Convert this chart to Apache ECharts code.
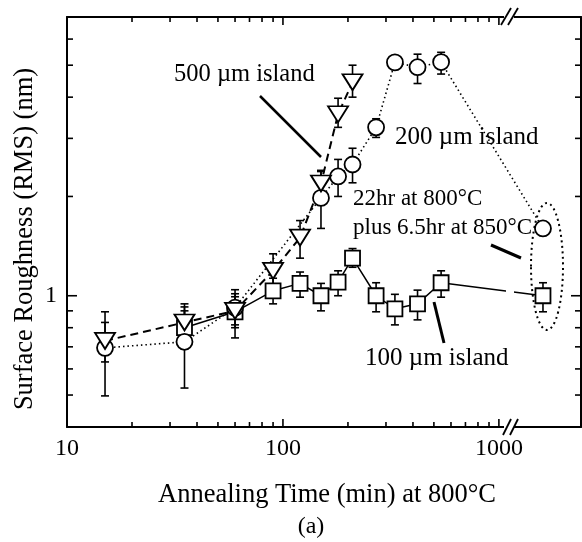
<!DOCTYPE html>
<html><head><meta charset="utf-8">
<script src="https://cdn.jsdelivr.net/npm/echarts@6/dist/echarts.min.js"></script>
<style>html,body{margin:0;padding:0;background:#fff}#c{width:582px;height:542px}</style>
</head><body><div id="c"></div>
<script>
// ---- axis ticks / labels ----
const xMajorTicks = [100, 1000];
const xMinorTicks = [20, 30, 40, 50, 60, 70, 80, 90, 200, 300, 400, 500, 600, 700, 800, 900];
const xTickLabels = [10, 100, 1000];
const yMajorTicks = [1];
const yMinorTicks = [0.5, 0.6, 0.7, 0.8, 0.9, 2, 3, 4, 5, 6];
const yTickLabels = [1];

// ---- 500 um island (triangles, dashed) ----
const tri500X  = [15, 35, 60, 90, 120, 150, 180, 210];
const tri500Y  = [0.73, 0.83, 0.90, 1.19, 1.50, 2.19, 3.55, 4.44];
const tri500Lo = [0.63, 0.72, 0.80, 1.06, 1.30, 2.00, 3.24, 4.00];
const tri500Hi = [0.83, 0.945, 1.014, 1.34, 1.69, 2.38, 3.97, 5.00];

// ---- 200 um island (circles, dotted) ----
const cir200X  = [15, 35, 60, 150, 180, 210, 270, 330, 420, 540, 1600];
const cir200Y  = [0.695, 0.725, 0.92, 1.98, 2.30, 2.50, 3.24, 5.10, 4.93, 5.11, 1.60];
const cir200Lo = [0.497, 0.525, 0.745, 1.60, 2.00, 2.20, 3.02, 4.90, 4.40, 4.70, 1.55];
const cir200Hi = [0.894, 0.925, 1.043, 2.40, 2.59, 2.80, 3.44, 5.30, 5.40, 5.47, 1.65];

// ---- 100 um island (squares, solid) ----
const sq100X  = [35, 60, 90, 120, 150, 180, 210, 270, 330, 420, 540, 1600];
const sq100Y  = [0.80, 0.894, 1.035, 1.09, 1.00, 1.10, 1.30, 1.00, 0.913, 0.945, 1.095, 1.00];
const sq100Lo = [0.69, 0.816, 0.945, 0.99, 0.90, 1.00, 1.22, 0.894, 0.816, 0.845, 0.99, 0.894];
const sq100Hi = [0.90, 0.993, 1.13, 1.18, 1.09, 1.19, 1.39, 1.095, 1.01, 1.04, 1.19, 1.095];

const SERIF = '"Liberation Serif", "DejaVu Serif", serif';
const zip2 = (a, b) => a.map((v, i) => [v, b[i]]);
const zip3 = (a, b, c) => a.map((v, i) => [v, b[i], c[i]]);

function errRender(params, api) {
  const x = api.value(0), lo = api.value(1), hi = api.value(2);
  const pLo = api.coord([x, lo]), pHi = api.coord([x, hi]);
  const w = 4, st = { stroke: '#000', lineWidth: 1.6 };
  return { type: 'group', children: [
    { type: 'line', shape: { x1: pLo[0], y1: pLo[1], x2: pHi[0], y2: pHi[1] }, style: st },
    { type: 'line', shape: { x1: pLo[0] - w, y1: pLo[1], x2: pLo[0] + w, y2: pLo[1] }, style: st },
    { type: 'line', shape: { x1: pHi[0] - w, y1: pHi[1], x2: pHi[0] + w, y2: pHi[1] }, style: st }
  ]};
}

const X_MIN = 10, X_MAX = 2400, Y_MIN = 0.4, Y_MAX = 7;
const GL = 67, GR = 581, GT = 17, GB = 427;
const labelFmt = v => String(Math.round(v * 1000) / 1000);
function ax(type, pos, min, max, labels) {
  return {
    type: 'log', position: pos, min: min, max: max, logBase: 10,
    axisLine: { show: true, lineStyle: { color: '#000', width: 2 } },
    axisTick: { show: false },
    axisLabel: labels ? { show: true, customValues: labels, formatter: labelFmt, color: '#000',
      fontFamily: SERIF, fontSize: 24, margin: 10 } : { show: false },
    splitLine: { show: false }, minorTick: { show: false }
  };
}

function errSeries(x, lo, hi) {
  return { type: 'custom', renderItem: errRender, data: zip3(x, lo, hi),
    encode: { x: 0, y: [1, 2] }, z: 1, silent: true, xAxisIndex: 0, yAxisIndex: 0 };
}
function lineSeries(name, x, y, symbol, size, rot, lineType, lw) {
  return { type: 'line', name: name, data: zip2(x, y), xAxisIndex: 0, yAxisIndex: 0,
    symbol: symbol, symbolSize: size, symbolRotate: rot, showSymbol: true, z: 2, silent: true,
    itemStyle: { color: '#fff', borderColor: '#000', borderWidth: 1.8 },
    lineStyle: { color: '#000', width: lw, type: lineType }, emphasis: { disabled: true } };
}

const chart = echarts.init(document.getElementById('c'), null, { renderer: 'canvas' });
chart.setOption({
  animation: false,
  backgroundColor: '#fff',
  grid: { left: GL, right: 582 - GR, top: GT, bottom: 542 - GB, containLabel: false, outerBoundsMode: 'none' },
  xAxis: [ax('log', 'bottom', X_MIN, X_MAX, xTickLabels), ax('log', 'top', X_MIN, X_MAX, null)],
  yAxis: [ax('log', 'left', Y_MIN, Y_MAX, yTickLabels), ax('log', 'right', Y_MIN, Y_MAX, null)],
  series: [
    errSeries(sq100X, sq100Lo, sq100Hi),
    errSeries(cir200X, cir200Lo, cir200Hi),
    errSeries(tri500X, tri500Lo, tri500Hi),
    lineSeries('100 µm island', sq100X, sq100Y, 'rect', 15, 0, 'solid', 1.5),
    lineSeries('200 µm island', cir200X, cir200Y, 'circle', 16, 0, [1.5, 3], 1.6),
    lineSeries('500 µm island', tri500X, tri500Y, 'triangle', [20, 16], 180, [8, 5], 2)
  ]
});

const txt = (t, x, y, size, align, rot) => ({ type: 'text', z: 60, x: x, y: y, rotation: rot || 0,
  style: { text: t, x: 0, y: 0, font: size + 'px ' + SERIF, fill: '#000',
    textAlign: align || 'left', textVerticalAlign: 'middle' } });
const seg = (x1, y1, x2, y2, w, dash) => ({ type: 'line', z: 60, shape: { x1, y1, x2, y2 },
  style: { stroke: '#000', lineWidth: w, lineDash: dash || null } });

const g = [];
// tick marks (inside), from the library's own axis scale
const tickSt = 1.6;
xMajorTicks.forEach(v => { const p = chart.convertToPixel({ xAxisIndex: 0 }, v);
  g.push(seg(p, GB, p, GB - 8, tickSt), seg(p, GT, p, GT + 8, tickSt)); });
xMinorTicks.forEach(v => { const p = chart.convertToPixel({ xAxisIndex: 0 }, v);
  g.push(seg(p, GB, p, GB - 5, tickSt), seg(p, GT, p, GT + 5, tickSt)); });
yMajorTicks.forEach(v => { const p = chart.convertToPixel({ yAxisIndex: 0 }, v);
  g.push(seg(GL, p, GL + 10, p, tickSt), seg(GR, p, GR - 10, p, tickSt)); });
yMinorTicks.forEach(v => { const p = chart.convertToPixel({ yAxisIndex: 0 }, v);
  g.push(seg(GL, p, GL + 6, p, tickSt), seg(GR, p, GR - 6, p, tickSt)); });

g.push(
  txt('Surface Roughness (RMS) (nm)', 25, 239, 26.5, 'center', Math.PI / 2),
  txt('Annealing Time (min) at 800°C', 327, 495, 26.5, 'center'),
  txt('(a)', 311, 527, 24, 'center'),
  txt('500 µm island', 174, 75, 24.5),
  seg(260, 96, 321, 157, 2.5),
  txt('200 µm island', 395, 137, 25),
  txt('22hr at 800°C', 353, 199, 23),
  txt('plus 6.5hr at 850°C', 353, 228, 23),
  seg(491, 245, 521, 258, 3),
  txt('100 µm island', 365, 358, 25),
  seg(434, 302, 444, 343, 3),
  { type: 'ellipse', z: 60, shape: { cx: 547, cy: 266.5, rx: 16, ry: 63.5 },
    style: { fill: null, stroke: '#000', lineWidth: 2, lineDash: [2, 3.5] } },
  // axis breaks
  { type: 'rect', z: 55, shape: { x: 504, y: 12, width: 10, height: 10 }, style: { fill: '#fff' } },
  { type: 'rect', z: 55, shape: { x: 504, y: 422, width: 10, height: 10 }, style: { fill: '#fff' } },
  { type: 'rect', z: 55, shape: { x: 506, y: 286, width: 8, height: 8 }, style: { fill: '#fff' } },
  seg(501, 25, 511, 8, 1.8), seg(508, 25, 518, 8, 1.8),
  seg(503, 435, 511, 419, 1.8), seg(510, 435, 518, 419, 1.8)
);
chart.setOption({ graphic: g });
</script></body></html>
